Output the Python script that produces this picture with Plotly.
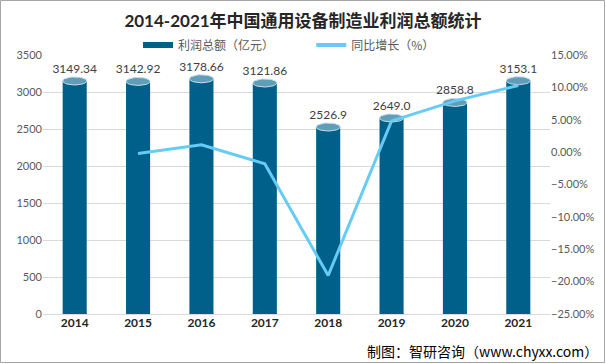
import numpy as np
import plotly.graph_objects as go

years = ["2014", "2015", "2016", "2017", "2018", "2019", "2020", "2021"]
profit = [3149.34, 3142.92, 3178.66, 3121.86, 2526.9, 2649.0, 2858.8, 3153.1]
profit_labels = ["3149.34", "3142.92", "3178.66", "3121.86", "2526.9", "2649.0", "2858.8", "3153.1"]
growth = [None, -0.2, 1.14, -1.79, -19.06, 4.83, 7.92, 10.29]

W, H = 606, 364
ML, MR, MT, MB = 43, 56, 55, 50
plot_w = W - ML - MR
plot_h = H - MT - MB
YMAX = 3500
BAR_W = 0.38
BAR_DARK = "#00608A"
BAR_TOP = "#5F9DB8"
LINE_C = "#66CCF5"
LABEL_LIFT_PX = 5

xs = list(range(len(years)))
px_y = YMAX / plot_h  # data units per pixel

def ellipse(cx, cy, a, b, n=40):
    t = np.linspace(0, 2 * np.pi, n)
    return list(cx + a * np.cos(t)), list(cy + b * np.sin(t))

fig = go.Figure()
fig.add_trace(go.Bar(
    x=xs, y=profit, width=BAR_W, marker=dict(color=BAR_DARK, line=dict(width=0)),
    showlegend=False, hoverinfo="skip"))

# cylinder ends
for i, v in enumerate(profit):
    ex, ey = ellipse(i, 0, BAR_W / 2, 4 * px_y)
    fig.add_trace(go.Scatter(x=ex, y=ey, mode="lines", fill="toself",
                             fillcolor=BAR_DARK, line=dict(width=0, color=BAR_DARK),
                             showlegend=False, hoverinfo="skip", cliponaxis=False))
    ex, ey = ellipse(i, v, BAR_W / 2, 4 * px_y)
    fig.add_trace(go.Scatter(x=ex, y=ey, mode="lines", fill="toself",
                             fillcolor=BAR_TOP, line=dict(width=1, color="#C9DDE7"),
                             showlegend=False, hoverinfo="skip", cliponaxis=False))

fig.add_trace(go.Scatter(x=xs, y=growth, yaxis="y2", mode="lines",
                         line=dict(color=LINE_C, width=3), showlegend=False,
                         hoverinfo="skip", connectgaps=False))

# value labels
fig.add_trace(go.Scatter(x=xs, y=[v + LABEL_LIFT_PX * px_y for v in profit],
                         mode="text", text=profit_labels,
                         textposition="top center", cliponaxis=False,
                         textfont=dict(size=12, color="#404040",
                                       family="Lato, Noto Sans CJK SC"),
                         showlegend=False, hoverinfo="skip"))

# legend entries
fig.add_trace(go.Scatter(x=[None], y=[None], mode="lines",
                         name="利润总额（亿元）" + "\u00a0" * 12,
                         line=dict(color=BAR_DARK, width=6)))
fig.add_trace(go.Scatter(x=[None], y=[None], mode="lines", name="同比增长（%）",
                         line=dict(color=LINE_C, width=4)))

fig.update_layout(
    width=W, height=H,
    margin=dict(l=ML, r=MR, t=MT, b=MB, autoexpand=False),
    paper_bgcolor="white", plot_bgcolor="white",
    font=dict(family="Lato, Noto Sans CJK SC, sans-serif", color="#595959", size=11),
    title=dict(text="<b>2014-2021年中国通用设备制造业利润总额统计</b>",
               x=0.5, xanchor="center", yref="container", y=1 - 21 / H,
               yanchor="middle",
               font=dict(size=17, color="#262626", family="Lato, Noto Sans CJK SC")),
    legend=dict(orientation="h", x=(138 - ML) / plot_w, xanchor="left", yref="container",
                y=1 - 45 / H, yanchor="middle",
                font=dict(size=12, color="#595959", family="Noto Sans CJK SC"),
                itemwidth=30, bgcolor="rgba(0,0,0,0)"),
    xaxis=dict(range=[-0.5, len(years) - 0.5], tickvals=xs,
               ticktext=["<b>%s</b>" % y for y in years],
               tickfont=dict(size=12, color="#262626"), showgrid=False,
               zeroline=False, showline=False, ticks=""),
    yaxis=dict(range=[0, YMAX], dtick=500, tickfont=dict(size=11, color="#595959"),
               showgrid=True, gridcolor="#D9D9D9", gridwidth=1,
               zeroline=True, zerolinecolor="#D9D9D9", zerolinewidth=1,
               showline=False, ticks=""),
    yaxis2=dict(range=[-25, 15], dtick=5, overlaying="y", side="right",
                tickformat=".2f", ticksuffix="%", showgrid=False, zeroline=False,
                tickfont=dict(size=11, color="#595959"), showline=False, ticks=""),
    showlegend=True,
)

fig.add_shape(type="rect", xref="paper", yref="paper",
              x0=-(ML - 0.5) / plot_w, x1=1 + (MR - 1.5) / plot_w,
              y0=-(MB - 1.5) / plot_h, y1=1 + (MT - 0.5) / plot_h,
              line=dict(color="#A6A6A6", width=1), fillcolor="rgba(0,0,0,0)")

fig.add_annotation(text="制图：智研咨询（www.chyxx.com）", xref="paper", yref="paper",
                   x=1 + (MR - 6) / plot_w, xanchor="right",
                   y=-(MB - 13) / plot_h, yanchor="middle", showarrow=False,
                   font=dict(size=14, color="#000000", family="Noto Sans CJK SC"))

fig.write_html("out.html", config={"displayModeBar": False},
               post_script="document.body.style.margin='0';document.body.style.overflow='hidden';")
